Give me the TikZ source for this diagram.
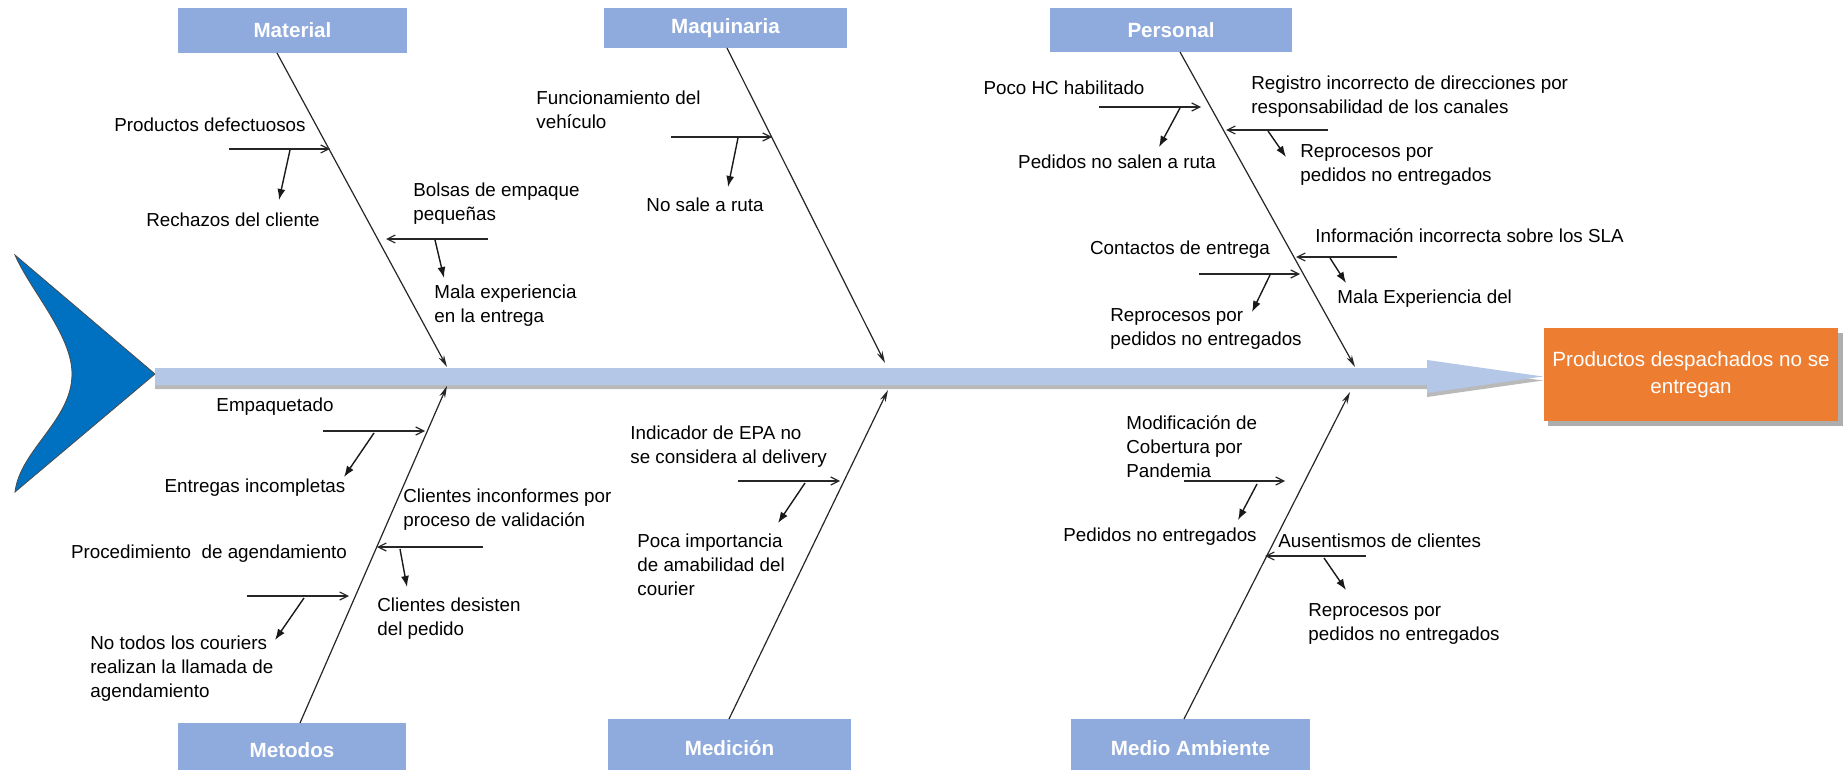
\documentclass[tikz,border=0pt]{standalone}
\usepackage{fontspec}
\setmainfont{Liberation Sans}
\usetikzlibrary{arrows.meta,calc}
\definecolor{catblue}{HTML}{8FAADC}
\definecolor{spineblue}{HTML}{B4C7E7}
\definecolor{tailblue}{HTML}{0070C0}
\definecolor{headorange}{HTML}{ED7D31}
\begin{document}
\begin{tikzpicture}[x=0.5pt,y=-0.5pt,
  catbox/.style={fill=catblue, text=white, font=\bfseries\fontsize{10.3}{12}\selectfont, inner sep=0pt},
  txt/.style={font=\fontsize{9.4}{12}\selectfont, inner sep=0pt, align=left},
  bone/.style={draw=black!85, line width=0.6pt, -{Stealth[length=6pt,width=3pt]}},
  hcause/.style={draw=black!85, line width=0.6pt, -{Straight Barb[length=4pt,width=4pt]}},
  effect/.style={draw=black!90, line width=0.7pt, -{Latex[length=5.5pt,width=4pt]}}]
\useasboundingbox (0,0) rectangle (1847,770);
\clip (0,0) rectangle (1847,770);

% tail
\path[fill=tailblue, draw=black!70, line width=0.4pt] (15,255) -- (155,374) -- (15,492)
  .. controls (20,450) and (72,420) .. (72,374)
  .. controls (72,335) and (30,290) .. (15,255) -- cycle;

% spine shadow and spine
\fill[black!50, opacity=0.55] (155,372) -- (1427,372) -- (1427,364) -- (1543,380.5) -- (1427,397) -- (1427,389) -- (155,389) -- cycle;
\fill[spineblue] (155,368) -- (1427,368) -- (1427,360) -- (1543,376.5) -- (1427,393) -- (1427,385) -- (155,385) -- cycle;

% head
\fill[black!45, opacity=0.7] (1548,333) rectangle (1843,426);
\node[fill=headorange, text=white, font=\fontsize{10.3}{13.5}\selectfont, align=center,
  minimum width=147pt, minimum height=46.5pt, inner sep=0pt] (head) at (1691,374.5)
  {Productos despachados no se\\entregan};

% category boxes
\node[catbox, minimum width=114.5pt, minimum height=22.5pt] (mat) at (292.5,30.5) {Material};
\node[catbox, minimum width=121.5pt, minimum height=20pt] (maq) at (725.5,28) {Maquinaria};
\node[catbox, minimum width=121pt, minimum height=22pt] (per) at (1171,30) {Personal};
\node[catbox, minimum width=114pt, minimum height=27pt] (met) at (292,750) {Metodos};
\node[catbox, minimum width=121.5pt, minimum height=29pt] (med) at (729.5,748) {Medición};
\node[catbox, minimum width=119.5pt, minimum height=29pt] (amb) at (1190.5,748) {Medio Ambiente};

% bones
\coordinate (matS) at (277,53);   \coordinate (matE) at (447,367);
\coordinate (maqS) at (727,48);   \coordinate (maqE) at (885,363);
\coordinate (perS) at (1180,52);  \coordinate (perE) at (1355,367);
\coordinate (metS) at (300,723);  \coordinate (metE) at (447,386);
\coordinate (medS) at (729,719);  \coordinate (medE) at (888,390);
\coordinate (ambS) at (1184,719); \coordinate (ambE) at (1350,392);
\draw[bone] (matS) -- (matE);
\draw[bone] (maqS) -- (maqE);
\draw[bone] (perS) -- (perE);
\draw[bone] (metS) -- (metE);
\draw[bone] (medS) -- (medE);
\draw[bone] (ambS) -- (ambE);

% ---------- Material ----------
\node[txt] (m1) at (210,125) {Productos defectuosos};
\node[txt] (m1e) at (233,220) {Rechazos del cliente};
\coordinate (m1a) at (229,149); \coordinate (m1b) at (330,149);
\coordinate (m1c) at (290,150); \coordinate (m1d) at (279,200);
\draw[hcause] (m1a) -- (m1b);
\draw[effect] (m1c) -- (m1d);

\node[txt, anchor=west] (m2) at (413,204) {Bolsas de empaque\\pequeñas};
\node[txt, anchor=west] (m2e) at (434,306) {Mala experiencia\\en la entrega};
\coordinate (m2a) at (488,239); \coordinate (m2b) at (386,239);
\coordinate (m2c) at (435,240); \coordinate (m2d) at (444,278);
\draw[hcause] (m2a) -- (m2b);
\draw[effect] (m2c) -- (m2d);

% ---------- Maquinaria ----------
\node[txt, anchor=west] (q1) at (536,110) {Funcionamiento del\\vehículo};
\node[txt] (q1e) at (705,205) {No sale a ruta};
\coordinate (q1a) at (671,137); \coordinate (q1b) at (772,137);
\coordinate (q1c) at (738,138); \coordinate (q1d) at (728,187);
\draw[hcause] (q1a) -- (q1b);
\draw[effect] (q1c) -- (q1d);

% ---------- Personal ----------
\node[txt] (p1) at (1064,88) {Poco HC habilitado};
\node[txt] (p1e) at (1117,162) {Pedidos no salen a ruta};
\coordinate (p1a) at (1099,107); \coordinate (p1b) at (1201,107);
\coordinate (p1c) at (1180,108); \coordinate (p1d) at (1159,147);
\draw[hcause] (p1a) -- (p1b);
\draw[effect] (p1c) -- (p1d);

\node[txt, anchor=west] (p2) at (1251,97) {Registro incorrecto de direcciones por\\responsabilidad de los canales};
\node[txt, anchor=west] (p2e) at (1300,165) {Reprocesos por\\pedidos no entregados};
\coordinate (p2a) at (1328,130); \coordinate (p2b) at (1226,130);
\coordinate (p2c) at (1268,131); \coordinate (p2d) at (1286,157);
\draw[hcause] (p2a) -- (p2b);
\draw[effect] (p2c) -- (p2d);

\node[txt] (p3) at (1180,250) {Contactos de entrega};
\node[txt, anchor=west] (p3e) at (1110,329) {Reprocesos por\\pedidos no entregados};
\coordinate (p3a) at (1199,274); \coordinate (p3b) at (1300,274);
\coordinate (p3c) at (1270,275); \coordinate (p3d) at (1252,312);
\draw[hcause] (p3a) -- (p3b);
\draw[effect] (p3c) -- (p3d);

\node[txt, anchor=west] (p4) at (1315,236) {Información incorrecta sobre los SLA};
\node[txt, anchor=west] (p4e) at (1337,299) {Mala Experiencia del};
\coordinate (p4a) at (1397,257); \coordinate (p4b) at (1296,257);
\coordinate (p4c) at (1330,258); \coordinate (p4d) at (1346,283);
\draw[hcause] (p4a) -- (p4b);
\draw[effect] (p4c) -- (p4d);

% ---------- Metodos ----------
\node[txt] (t1) at (275,407) {Empaquetado};
\node[txt] (t1e) at (255,488) {Entregas incompletas};
\coordinate (t1a) at (323,431); \coordinate (t1b) at (425,431);
\coordinate (t1c) at (374,433); \coordinate (t1d) at (344,477);
\draw[hcause] (t1a) -- (t1b);
\draw[effect] (t1c) -- (t1d);

\node[txt, anchor=west] (t2) at (403,510) {Clientes inconformes por\\proceso de validación};
\node[txt, anchor=west] (t2e) at (377,619) {Clientes desisten\\del pedido};
\coordinate (t2a) at (483,547); \coordinate (t2b) at (377,547);
\coordinate (t2c) at (400,549); \coordinate (t2d) at (407,587);
\draw[hcause] (t2a) -- (t2b);
\draw[effect] (t2c) -- (t2d);

\node[txt] (t3) at (209,554) {Procedimiento\ \ de agendamiento};
\node[txt, anchor=west] (t3e) at (90,669) {No todos los couriers\\realizan la llamada de\\agendamiento};
\coordinate (t3a) at (247,596); \coordinate (t3b) at (349,596);
\coordinate (t3c) at (304,598); \coordinate (t3d) at (275,640);
\draw[hcause] (t3a) -- (t3b);
\draw[effect] (t3c) -- (t3d);

% ---------- Medicion ----------
\node[txt, anchor=west] (d1) at (630,447) {Indicador de EPA no\\se considera al delivery};
\node[txt, anchor=west] (d1e) at (637,565) {Poca importancia\\de amabilidad del\\courier};
\coordinate (d1a) at (738,481); \coordinate (d1b) at (840,481);
\coordinate (d1c) at (805,483); \coordinate (d1d) at (778,523);
\draw[hcause] (d1a) -- (d1b);
\draw[effect] (d1c) -- (d1d);

% ---------- Medio Ambiente ----------
\node[txt, anchor=west] (a1) at (1126,447) {Modificación de\\Cobertura por\\Pandemia};
\node[txt] (a1e) at (1160,537) {Pedidos no entregados};
\coordinate (a1a) at (1184,481); \coordinate (a1b) at (1285,481);
\coordinate (a1c) at (1257,484); \coordinate (a1d) at (1238,520);
\draw[hcause] (a1a) -- (a1b);
\draw[effect] (a1c) -- (a1d);

\node[txt, anchor=west] (a2) at (1278,541) {Ausentismos de clientes};
\node[txt, anchor=west] (a2e) at (1308,624) {Reprocesos por\\pedidos no entregados};
\coordinate (a2a) at (1366,556); \coordinate (a2b) at (1265,556);
\coordinate (a2c) at (1324,558); \coordinate (a2d) at (1346,590);
\draw[hcause] (a2a) -- (a2b);
\draw[effect] (a2c) -- (a2d);
\end{tikzpicture}
\end{document}
